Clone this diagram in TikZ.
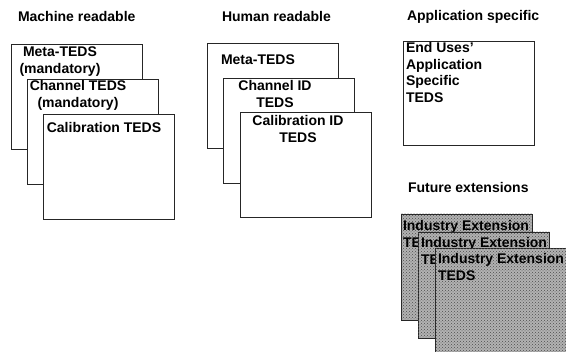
\documentclass[tikz,border=0pt]{standalone}
\usepackage{fontspec}
\setmainfont{Liberation Sans}
\usetikzlibrary{patterns}
\begin{document}
\begin{tikzpicture}[x=1pt,y=-1pt,
  every node/.style={font=\bfseries\fontsize{14}{16.5}\selectfont, inner sep=0pt, outer sep=0pt},
  card/.style={draw=black!85, line width=0.8pt, fill=white, anchor=north west,
    minimum width=131pt, minimum height=105pt},
  extcard/.style={card, fill=black!30,
    postaction={pattern=crosshatch dots, pattern color=black!70}},
  heading/.style={anchor=base west},
  midtext/.style={anchor=base},
  lefttext/.style={anchor=base west},
]
\useasboundingbox (0,0) rectangle (566,352);

% column headings
\node[heading] (hm) at (18,22)  {Machine readable};
\node[heading] (hh) at (222,22) {Human readable};
\node[heading] (ha) at (407,21) {Application specific};
\node[heading] (hf) at (408,193) {Future extensions};

% machine readable stack
\node[card] (m1) at (11,44) {};
\node[midtext] (m1t) at (60,57) {\begin{tabular}[t]{@{}c@{}}Meta-TEDS\\(mandatory)\end{tabular}};
\node[card] (m2) at (27,79) {};
\node[midtext] (m2t) at (78,91) {\begin{tabular}[t]{@{}c@{}}Channel TEDS\\(mandatory)\end{tabular}};
\node[card] (m3) at (43,114) {};
\node[midtext] (m3t) at (104,133) {Calibration TEDS};

% human readable stack
\node[card] (u1) at (207,43) {};
\node[lefttext] (u1t) at (221,65) {Meta-TEDS};
\node[card] (u2) at (223,78) {};
\node[midtext] (u2t) at (275,91) {\begin{tabular}[t]{@{}c@{}}Channel ID\\TEDS\end{tabular}};
\node[card] (u3) at (240,112) {};
\node[midtext] (u3t) at (298,126) {\begin{tabular}[t]{@{}c@{}}Calibration ID\\TEDS\end{tabular}};

% application specific
\node[card, minimum height=104pt] (a1) at (403,41) {};
\node[lefttext] (a1t) at (406,53) {\begin{tabular}[t]{@{}l@{}}End Uses'\\Application\\Specific\\TEDS\end{tabular}};

% future extensions stack
\node[extcard, minimum height=106pt] (f1) at (401,214) {};
\node[lefttext] (f1t) at (403,231) {\begin{tabular}[t]{@{}l@{}}Industry Extension\\TEDS\end{tabular}};
\node[extcard, minimum height=106pt] (f2) at (418,232) {};
\node[lefttext] (f2t) at (421,248) {\begin{tabular}[t]{@{}l@{}}Industry Extension\\TEDS\end{tabular}};
\node[extcard, minimum height=106pt] (f3) at (435,248) {};
\node[lefttext] (f3t) at (438,264) {\begin{tabular}[t]{@{}l@{}}Industry Extension\\TEDS\end{tabular}};
\end{tikzpicture}
\end{document}
